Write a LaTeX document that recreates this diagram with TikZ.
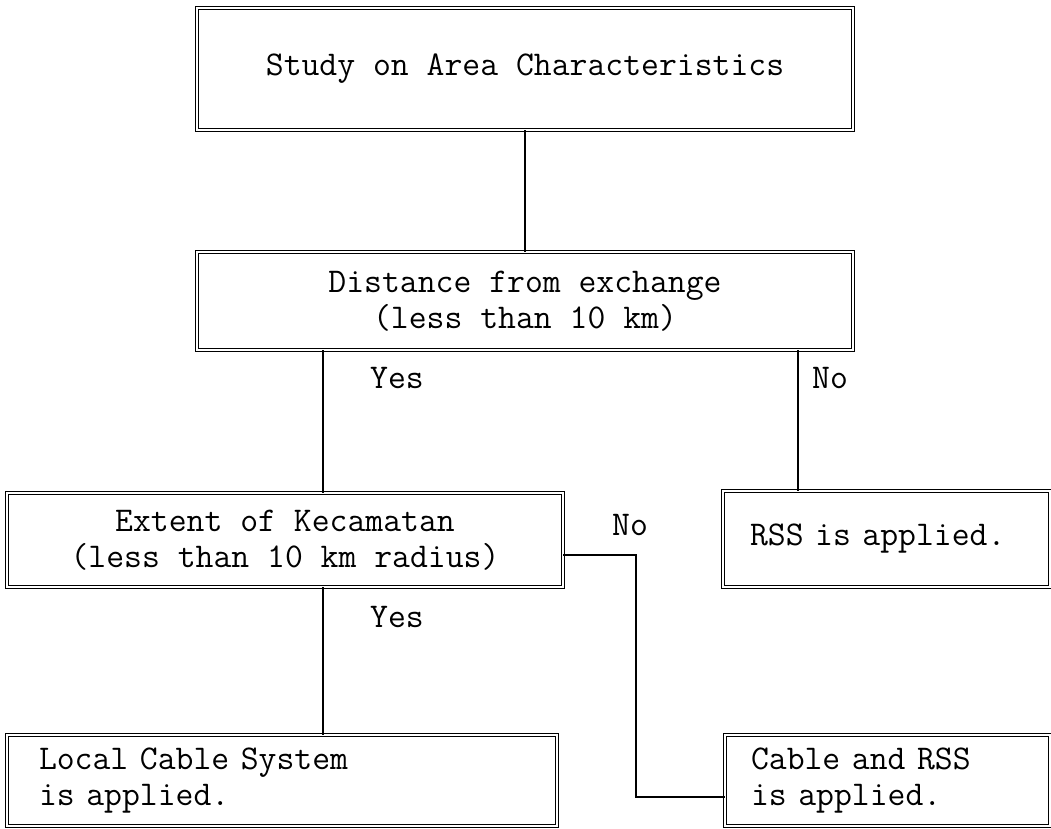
\documentclass[tikz,border=0pt]{standalone}
\begin{document}
\begin{tikzpicture}[x=1pt,y=-1pt,
  txt/.style={font=\ttfamily\fontsize{34.7}{36}\selectfont},
  box/.style={draw, double, line width=0.9pt, double distance=1.6pt, inner sep=0pt, txt, align=center},
  lbox/.style={box, align=left},
  conn/.style={line width=1.6pt},
  lab/.style={txt, anchor=west, inner sep=0pt}]
\useasboundingbox (0,0) rectangle (1051,829);
\node[box, minimum width=656pt, minimum height=122pt] (A) at (525,69) {Study on Area Characteristics};
\node[box, minimum width=656pt, minimum height=98pt] (B) at (525,301) {Distance from exchange\\(less than 10 km)};
\node[box, minimum width=556pt, minimum height=94pt] (C) at (285,540) {Extent of Kecamatan\\(less than 10 km radius)};
\node[lbox, text width=273pt, inner xsep=27pt, minimum height=96pt] (R) at (886.5,539) {RSS is applied.};
\node[lbox, text width=486pt, inner xsep=32pt, minimum height=91pt] (D) at (282,780.5) {Local Cable System\\is applied.};
\node[lbox, text width=273pt, inner xsep=26pt, minimum height=91pt] (E) at (887.5,780.5) {Cable and RSS\\is applied.};
\coordinate (yx) at (323,0);
\coordinate (nx) at (798,0);
\coordinate (elbow) at (636,555);
\coordinate (ey) at (0,797);
\draw[conn] (A.south) -- (B.north);
\draw[conn] (B.south -| yx) -- (C.north -| yx);
\draw[conn] (B.south -| nx) -- (R.north -| nx);
\draw[conn] (C.south -| yx) -- (D.north -| yx);
\draw[conn] (C.east |- elbow) -- (elbow) |- (E.west |- ey);
\node[lab] (y1) at (370,378) {Yes};
\node[lab] (n1) at (812,378) {No};
\node[lab] (n2) at (612,525) {No};
\node[lab] (y2) at (370,617) {Yes};
\end{tikzpicture}
\end{document}
